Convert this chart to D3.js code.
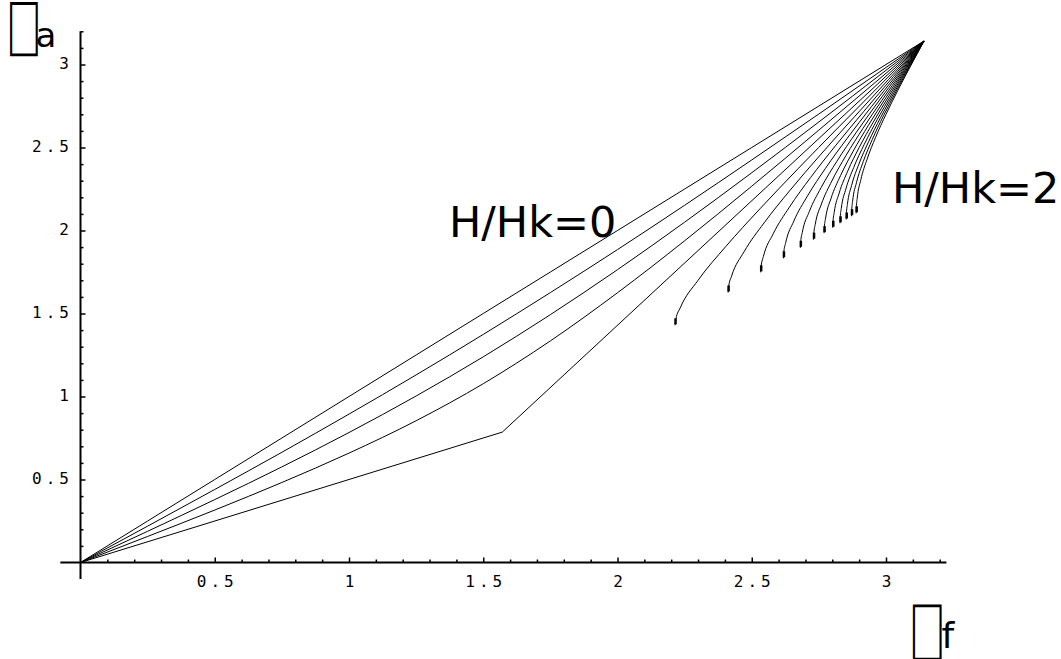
<!DOCTYPE html>
<html>
<head>
<meta charset="utf-8">
<script src="https://cdn.jsdelivr.net/npm/d3@7"></script>
<style>
  html, body { margin: 0; padding: 0; background: #fff; }
  svg { display: block; }
</style>
</head>
<body>
<svg id="chart" width="1061" height="659"></svg>
<script>
// ---------------- data ----------------
const xTickValues = [0.5, 1, 1.5, 2, 2.5, 3];
const yTickValues = [0.5, 1, 1.5, 2, 2.5, 3];
const xTickLabels = ["0.5", "1", "1.5", "2", "2.5", "3"];
const yTickLabels = ["0.5", "1", "1.5", "2", "2.5", "3"];
const xMinorTicks = [0.1,0.2,0.3,0.4,0.6,0.7,0.8,0.9,1.1,1.2,1.3,1.4,1.6,1.7,1.8,1.9,2.1,2.2,2.3,2.4,2.6,2.7,2.8,2.9,3.1,3.2];
const yMinorTicks = [0.1,0.2,0.3,0.4,0.6,0.7,0.8,0.9,1.1,1.2,1.3,1.4,1.6,1.7,1.8,1.9,2.1,2.2,2.3,2.4,2.6,2.7,2.8,2.9,3.1,3.2];

const axisLabelY = ["\u2588", "a"];   // box = unrendered symbol glyph
const axisLabelX = ["\u2588", "f"];
const curveLabels = ["H/Hk=0", "H/Hk=2"];

// curves starting at the origin (shared abscissa grid)
const phiGrid   = [0, 0.25, 0.5, 0.75, 1, 1.25, 1.5, 1.75, 2, 2.25, 2.5, 2.75, 3, 3.1416];
const thetaH000 = [0, 0.25, 0.5, 0.75, 1, 1.25, 1.5, 1.75, 2, 2.25, 2.5, 2.75, 3, 3.1416];
const thetaH025 = [0, 0.219, 0.440, 0.664, 0.894, 1.130, 1.374, 1.626, 1.885, 2.152, 2.425, 2.702, 2.982, 3.1416];
const thetaH050 = [0, 0.188, 0.379, 0.576, 0.783, 1.003, 1.239, 1.493, 1.764, 2.050, 2.348, 2.654, 2.965, 3.1416];
const thetaH075 = [0, 0.157, 0.316, 0.482, 0.659, 0.854, 1.077, 1.335, 1.625, 1.938, 2.267, 2.605, 2.947, 3.1416];
// kinked curve
const phiKink   = [0, 1.5708, 3.1416];
const thetaKink = [0, 0.7854, 3.1416];

// curves starting at a cusp point
const cusp125 = [[2.2143,1.4289],[2.2176,1.4676],[2.2335,1.5335],[2.3001,1.7001],[2.4031,1.9031],[2.5304,2.1304],[2.6729,2.3729],[2.8248,2.6248],[2.9820,2.8820],[3.1416,3.1416]];
const cusp150 = [[2.4119,1.6265],[2.4141,1.6641],[2.4248,1.7248],[2.4711,1.8711],[2.5460,2.0460],[2.6429,2.2429],[2.7557,2.4557],[2.8790,2.6790],[3.0088,2.9088],[3.1416,3.1416]];
const cusp175 = [[2.5333,1.7479],[2.5351,1.7851],[2.5434,1.8434],[2.5799,1.9799],[2.6400,2.1400],[2.7192,2.3192],[2.8131,2.5131],[2.9172,2.7172],[3.0278,2.9278],[3.1416,3.1416]];
const cusp200 = [[2.6180,1.8326],[2.6194,1.8694],[2.6264,1.9264],[2.6568,2.0568],[2.7073,2.2073],[2.7747,2.3747],[2.8554,2.5554],[2.9456,2.7456],[3.0421,2.9421],[3.1416,3.1416]];
const cusp225 = [[2.6810,1.8956],[2.6823,1.9323],[2.6882,1.9882],[2.7145,2.1145],[2.7583,2.2583],[2.8171,2.4171],[2.8879,2.5879],[2.9676,2.7676],[3.0532,2.9532],[3.1416,3.1416]];
const cusp250 = [[2.7301,1.9447],[2.7312,1.9812],[2.7364,2.0364],[2.7596,2.1596],[2.7983,2.2983],[2.8506,2.4506],[2.9138,2.6138],[2.9852,2.7852],[3.0620,2.9620],[3.1416,3.1416]];
const cusp275 = [[2.7694,1.9840],[2.7704,2.0204],[2.7751,2.0751],[2.7958,2.1958],[2.8306,2.3306],[2.8777,2.4777],[2.9348,2.6348],[2.9995,2.7995],[3.0693,2.9693],[3.1416,3.1416]];
const cusp300 = [[2.8018,2.0164],[2.8026,2.0526],[2.8069,2.1069],[2.8257,2.2257],[2.8573,2.3573],[2.9001,2.5001],[2.9523,2.6523],[3.0114,2.8114],[3.0753,2.9753],[3.1416,3.1416]];
const cusp325 = [[2.8288,2.0434],[2.8296,2.0796],[2.8335,2.1335],[2.8507,2.2507],[2.8797,2.3797],[2.9190,2.5190],[2.9670,2.6670],[3.0215,2.8215],[3.0804,2.9804],[3.1416,3.1416]];
const cusp350 = [[2.8518,2.0664],[2.8526,2.1026],[2.8562,2.1562],[2.8720,2.2720],[2.8988,2.3988],[2.9352,2.5352],[2.9796,2.6796],[3.0301,2.8301],[3.0848,2.9848],[3.1416,3.1416]];
const cusp375 = [[2.8716,2.0862],[2.8723,2.1223],[2.8756,2.1756],[2.8904,2.2904],[2.9153,2.4153],[2.9491,2.5491],[2.9904,2.6904],[3.0376,2.8376],[3.0886,2.9886],[3.1416,3.1416]];
const cusp400 = [[2.8889,2.1035],[2.8896,2.1396],[2.8927,2.1927],[2.9064,2.3064],[2.9296,2.4296],[2.9613,2.5613],[3.0000,2.7000],[3.0441,2.8441],[3.0919,2.9919],[3.1416,3.1416]];

// ---------------- drawing ----------------
const svg = d3.select("#chart");
svg.append("rect").attr("width", 1061).attr("height", 659).attr("fill", "#fff");

const x = d3.scaleLinear().domain([0, 1]).range([80.5, 349]);
const y = d3.scaleLinear().domain([0, 1]).range([562.5, 396.5]);

const plot = svg.append("g");

const smooth = d3.line().x(d => x(d[0])).y(d => y(d[1])).curve(d3.curveMonotoneX);
const straight = d3.line().x(d => x(d[0])).y(d => y(d[1])).curve(d3.curveLinear);

const originCurves = [thetaH000, thetaH025, thetaH050, thetaH075].map(t => phiGrid.map((p, i) => [p, t[i]]));
const kinkCurve = phiKink.map((p, i) => [p, thetaKink[i]]);
const cuspCurves = [cusp125, cusp150, cusp175, cusp200, cusp225, cusp250, cusp275, cusp300, cusp325, cusp350, cusp375, cusp400];

plot.selectAll("path.o").data(originCurves).join("path")
  .attr("class", "o").attr("d", smooth)
  .attr("fill", "none").attr("stroke", "#000").attr("stroke-width", 1);
plot.append("path").datum(kinkCurve).attr("d", straight)
  .attr("fill", "none").attr("stroke", "#000").attr("stroke-width", 1);
plot.selectAll("path.c").data(cuspCurves).join("path")
  .attr("class", "c").attr("d", smooth)
  .attr("fill", "none").attr("stroke", "#000").attr("stroke-width", 1);

// small dark end marks at the cusps
plot.selectAll("line.cm").data(cuspCurves).join("line")
  .attr("class", "cm")
  .attr("x1", d => x(d[0][0]) + 0.5).attr("x2", d => x(d[0][0]) + 0.5)
  .attr("y1", d => y(d[0][1]) - 7).attr("y2", d => y(d[0][1]) - 1)
  .attr("stroke", "#000").attr("stroke-width", 2.5);

// ---------------- axes ----------------
const monoFont = "'DejaVu Sans Mono', 'Liberation Mono', monospace";

const xAxis = d3.axisBottom(x).tickValues(xTickValues)
  .tickFormat((d, i) => xTickLabels[i]).tickSizeInner(-5).tickSizeOuter(0).tickPadding(13);
const gx = svg.append("g").attr("transform", `translate(0,${y(0)})`).call(xAxis);
gx.select(".domain").remove();
gx.selectAll(".tick line").attr("stroke", "#000").attr("stroke-width", 1.5);
gx.selectAll(".tick text").attr("font-family", monoFont).attr("font-size", 16)
  .attr("letter-spacing", "4px").attr("dx", "2").attr("fill", "#000");

const xMinor = d3.axisBottom(x).tickValues(xMinorTicks).tickFormat("").tickSizeInner(-3).tickSizeOuter(0);
const gxm = svg.append("g").attr("transform", `translate(0,${y(0)})`).call(xMinor);
gxm.select(".domain").remove();
gxm.selectAll(".tick line").attr("stroke", "#000").attr("stroke-width", 1.5);

const yAxis = d3.axisLeft(y).tickValues(yTickValues)
  .tickFormat((d, i) => yTickLabels[i]).tickSizeInner(-5).tickSizeOuter(0).tickPadding(7.5);
const gy = svg.append("g").attr("transform", `translate(${x(0)},0)`).call(yAxis);
gy.select(".domain").remove();
gy.selectAll(".tick line").attr("stroke", "#000").attr("stroke-width", 1.5);
gy.selectAll(".tick text").attr("font-family", monoFont).attr("font-size", 16)
  .attr("letter-spacing", "4px").attr("dy", "0.22em").attr("fill", "#000");

const yMinor = d3.axisLeft(y).tickValues(yMinorTicks).tickFormat("").tickSizeInner(-3).tickSizeOuter(0);
const gym = svg.append("g").attr("transform", `translate(${x(0)},0)`).call(yMinor);
gym.select(".domain").remove();
gym.selectAll(".tick line").attr("stroke", "#000").attr("stroke-width", 1.5);

// axis lines (extend slightly past the plotted range)
svg.append("line").attr("x1", x(-0.075)).attr("x2", x(3.225)).attr("y1", y(0)).attr("y2", y(0))
  .attr("stroke", "#000").attr("stroke-width", 2);
svg.append("line").attr("x1", x(0)).attr("x2", x(0)).attr("y1", y(-0.1)).attr("y2", y(3.2))
  .attr("stroke", "#000").attr("stroke-width", 2);

// ---------------- labels ----------------
const sansFont = "'DejaVu Sans', Verdana, sans-serif";

function axisTitle(bx, by, boxSize, lx, ly, letterSize, parts) {
  svg.append("text").attr("transform", `translate(${bx},${by}) scale(0.75,1)`)
    .attr("font-family", sansFont).attr("font-size", boxSize)
    .attr("fill", "#fff").attr("stroke", "#000").attr("stroke-width", 2.8).text(parts[0]);
  svg.append("text").attr("x", lx).attr("y", ly).attr("font-family", sansFont)
    .attr("font-size", letterSize).attr("fill", "#000").text(parts[1]);
}
axisTitle(11.3, 43.6, 43.3, 35.5, 47, 34, axisLabelY);
axisTitle(914.3, 648.2, 45, 941.5, 648, 36, axisLabelX);

svg.append("text").attr("x", 449).attr("y", 237).attr("font-family", sansFont)
  .attr("font-size", 43).attr("fill", "#000").text(curveLabels[0]);
svg.append("text").attr("x", 892).attr("y", 203).attr("font-family", sansFont)
  .attr("font-size", 43).attr("fill", "#000").text(curveLabels[1]);
</script>
</body>
</html>
